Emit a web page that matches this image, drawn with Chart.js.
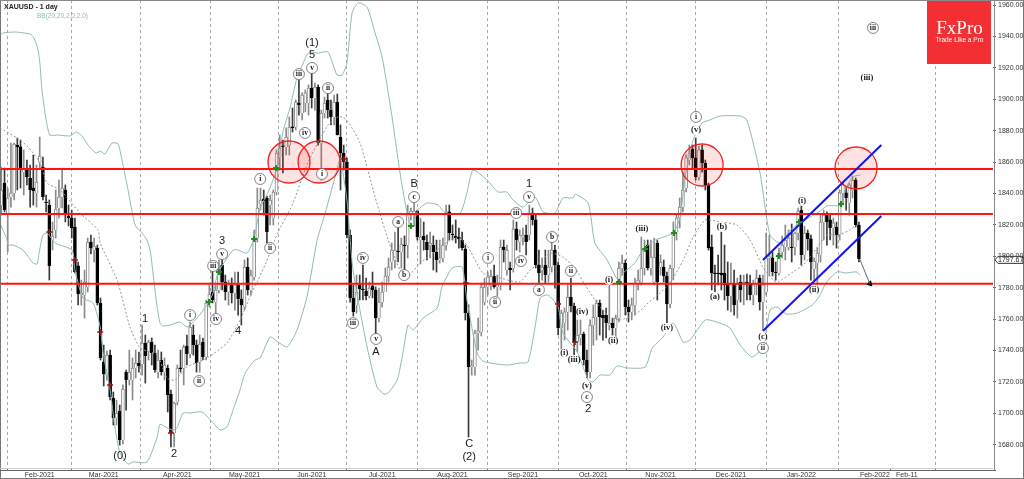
<!DOCTYPE html>
<html><head><meta charset="utf-8">
<style>html,body{margin:0;padding:0;background:#fff}canvas{display:block}</style>
<script src="https://cdn.jsdelivr.net/npm/chart.js@4/dist/chart.umd.min.js"></script>
</head><body><canvas id="c" width="1024" height="479"></canvas>
<script>
const tickIndex=[12,32,55,76,97,119,141,163,185,206,228,250,273,283,301];
const tickLabels=["Feb-2021","Mar-2021","Apr-2021","May-2021","Jun-2021","Jul-2021","Aug-2021","Sep-2021","Oct-2021","Nov-2021","Dec-2021","Jan-2022","Feb-2022","Feb-11",""];
const open=[1832.6,1846.6,1827.5,1837.7,1840.3,1870.8,1869.6,1853.6,1854.9,1849.8,
1843.4,1840.3,1860.0,1856.8,1834.5,1832.6,1810.3,1816.7,1830.7,1837.7,
1842.2,1825.6,1824.3,1818.6,1793.8,1775.3,1775.3,1780.4,1809.0,1803.9,
1805.2,1770.2,1732.6,1724.3,1737.0,1709.7,1697.0,1701.4,1682.9,1726.2,
1721.1,1721.1,1728.8,1732.0,1731.3,1744.7,1739.0,1745.3,1738.3,1726.2,
1733.9,1726.2,1728.8,1712.2,1687.4,1707.1,1728.8,1728.8,1742.8,1737.7,
1749.8,1743.4,1732.6,1745.3,1735.8,1770.2,1777.2,1770.8,1778.5,1794.4,
1783.6,1777.2,1781.7,1776.6,1781.7,1772.7,1767.6,1793.1,1778.5,1786.8,
1811.6,1833.3,1836.4,1837.1,1832.6,1824.3,1840.9,1863.2,1870.2,1869.6,
1870.8,1882.3,1882.3,1897.6,1891.2,1897.6,1897.6,1907.1,1900.8,1907.8,
1872.1,1891.2,1899.5,1893.1,1888.7,1898.2,1875.9,1865.7,1860.0,1813.5,
1773.4,1769.0,1781.7,1779.1,1777.8,1774.6,1781.0,1778.5,1760.6,1770.8,
1777.2,1787.4,1796.3,1797.6,1803.3,1802.7,1807.1,1807.1,1826.9,1826.9,
1828.8,1810.3,1812.9,1809.0,1807.1,1807.1,1802.7,1797.6,1798.9,1807.1,
1828.2,1814.1,1812.9,1812.2,1810.3,1804.6,1763.8,1729.4,1729.4,1751.1,
1751.7,1770.8,1780.4,1781.7,1787.4,1780.4,1781.7,1805.8,1791.2,1792.5,
1792.5,1817.3,1809.0,1812.2,1813.5,1813.5,1827.5,1823.1,1794.4,1791.2,
1794.4,1788.0,1793.1,1803.9,1794.4,1754.3,1757.4,1764.5,1774.0,1768.3,
1745.3,1747.9,1750.4,1733.9,1726.2,1756.2,1761.3,1770.2,1762.5,1762.5,
1756.2,1757.4,1754.3,1760.6,1792.5,1795.7,1767.6,1764.5,1769.0,1782.9,
1783.6,1792.5,1807.1,1792.5,1783.6,1808.4,1793.1,1793.1,1787.4,1769.6,
1792.5,1815.4,1824.3,1831.3,1843.4,1861.3,1868.3,1862.6,1850.4,1867.7,
1859.4,1845.4,1805.8,1789.3,1789.3,1789.3,1789.3,1782.3,1774.6,1782.3,
1772.1,1783.6,1781.7,1783.6,1782.3,1775.3,1782.3,1786.1,1770.8,1777.2,
1798.9,1798.9,1789.9,1789.3,1802.7,1805.8,1805.8,1805.8,1805.8,1814.8,
1829.4,1800.8,1814.8,1811.0,1791.8,1795.7,1800.8,1821.8,1826.2,1823.1,
1818.0,1818.6,1813.5,1840.3,1840.3,1833.9,1842.2,1848.5,1819.9];
const close=[1842.2,1829.4,1837.1,1840.3,1871.5,1869.6,1856.2,1856.2,1850.4,1842.2,
1841.5,1847.3,1863.8,1837.7,1833.9,1793.8,1812.9,1830.1,1837.7,1843.4,
1827.5,1824.3,1818.0,1789.9,1775.9,1776.6,1783.6,1809.0,1805.2,1806.5,
1770.2,1735.2,1725.0,1737.0,1710.3,1697.0,1700.1,1682.9,1715.4,1721.1,
1726.2,1728.8,1732.0,1730.1,1744.7,1736.4,1745.3,1738.3,1727.5,1733.9,
1726.2,1730.7,1711.6,1687.4,1706.5,1728.8,1728.2,1742.2,1737.7,1754.9,
1743.4,1732.0,1744.1,1735.8,1770.2,1775.9,1772.1,1778.5,1792.5,1783.6,
1777.2,1781.7,1776.6,1781.7,1772.7,1768.9,1793.1,1778.5,1788.0,1811.6,
1830.7,1835.8,1835.2,1815.4,1835.8,1840.9,1865.7,1868.9,1869.6,1875.9,
1882.3,1881.7,1898.2,1896.3,1902.7,1904.0,1907.1,1900.8,1907.8,1872.1,
1891.2,1897.6,1893.1,1888.7,1898.2,1877.2,1865.7,1860.0,1813.5,1773.4,
1764.5,1777.2,1779.1,1778.5,1774.6,1779.7,1778.5,1760.6,1770.8,1777.2,
1787.4,1793.1,1803.9,1803.9,1802.7,1807.8,1806.5,1827.5,1828.8,1828.8,
1812.2,1812.2,1810.3,1803.9,1808.4,1802.7,1797.6,1798.9,1807.1,1828.2,
1814.8,1813.5,1811.6,1811.0,1805.2,1763.8,1729.4,1730.1,1751.1,1752.4,
1780.4,1780.4,1786.8,1787.4,1780.4,1781.7,1805.8,1803.9,1803.9,1791.2,
1817.3,1810.3,1813.5,1813.5,1809.0,1827.5,1823.1,1794.4,1789.3,1793.1,
1788.0,1793.1,1803.9,1794.4,1754.3,1763.8,1764.5,1774.0,1768.3,1745.3,
1749.8,1750.4,1733.9,1726.2,1756.2,1761.3,1770.2,1761.3,1760.6,1757.4,
1757.4,1754.3,1760.6,1792.5,1795.7,1767.6,1764.5,1769.0,1782.9,1784.8,
1792.5,1803.9,1792.5,1799.5,1799.5,1783.6,1796.3,1787.4,1769.6,1792.5,
1815.4,1824.3,1831.3,1842.2,1862.6,1865.7,1862.6,1850.4,1867.7,1859.4,
1845.4,1805.2,1789.3,1788.7,1788.7,1788.0,1781.7,1774.6,1782.3,1768.9,
1782.3,1778.5,1783.6,1782.9,1775.3,1781.7,1786.1,1770.8,1781.7,1798.9,
1799.5,1789.9,1789.3,1802.0,1807.1,1810.3,1811.6,1805.2,1814.8,1828.8,
1800.8,1814.8,1811.0,1796.3,1796.9,1802.0,1821.8,1826.2,1821.8,1818.0,
1821.2,1813.5,1840.3,1845.4,1837.1,1845.4,1848.5,1819.9,1798.2];
const high=[1856.8,1856.2,1843.4,1872.1,1872.1,1875.3,1874.0,1867.7,1861.3,1858.1,
1864.5,1858.1,1875.9,1863.2,1839.0,1835.8,1821.8,1842.2,1848.5,1856.2,
1845.4,1832.6,1829.4,1824.3,1796.3,1784.8,1791.2,1811.6,1813.5,1811.6,
1807.1,1773.4,1743.4,1739.6,1740.2,1713.5,1708.4,1705.2,1718.0,1727.5,
1740.2,1735.2,1740.2,1739.0,1756.2,1749.8,1746.6,1747.9,1743.4,1740.2,
1739.0,1735.2,1730.7,1714.8,1707.1,1730.7,1740.2,1743.4,1749.8,1758.1,
1756.2,1746.6,1749.8,1747.9,1772.1,1781.7,1794.4,1781.7,1797.6,1800.8,
1788.0,1784.8,1786.1,1789.9,1789.9,1778.5,1797.6,1798.9,1791.2,1816.7,
1843.4,1843.4,1842.2,1838.3,1839.0,1842.2,1867.7,1877.2,1874.0,1881.7,
1888.7,1894.4,1899.5,1912.2,1904.0,1905.9,1909.1,1916.7,1910.3,1909.1,
1893.1,1901.4,1905.9,1899.5,1902.7,1903.3,1883.6,1870.8,1862.6,1816.7,
1781.7,1788.0,1788.0,1794.4,1786.1,1783.6,1789.9,1780.4,1779.7,1783.6,
1792.5,1798.9,1808.4,1815.4,1819.9,1811.6,1812.9,1832.6,1830.7,1838.3,
1829.4,1824.3,1821.8,1813.5,1815.4,1812.9,1810.3,1810.3,1811.6,1832.6,
1832.6,1819.9,1823.1,1818.0,1815.4,1807.1,1769.0,1733.9,1753.0,1760.6,
1782.9,1786.1,1789.9,1791.2,1794.4,1788.0,1810.3,1810.3,1807.1,1796.3,
1823.1,1821.8,1816.7,1818.0,1819.9,1832.6,1830.7,1826.2,1803.9,1798.9,
1803.9,1803.9,1810.3,1807.1,1796.3,1765.7,1767.0,1781.7,1786.1,1770.2,
1759.4,1759.4,1751.7,1740.2,1759.4,1769.0,1772.1,1772.1,1765.7,1767.0,
1783.6,1760.6,1762.5,1796.3,1800.8,1797.6,1772.1,1773.4,1786.1,1791.2,
1812.2,1810.3,1810.3,1810.3,1811.6,1810.3,1800.8,1797.6,1789.9,1794.4,
1821.8,1826.2,1837.1,1853.6,1864.5,1870.8,1870.8,1875.3,1870.2,1870.8,
1861.3,1846.6,1813.5,1794.4,1800.8,1816.7,1807.1,1796.3,1795.7,1791.2,
1786.1,1788.0,1788.0,1788.7,1788.0,1784.8,1791.2,1788.0,1788.0,1814.8,
1813.5,1802.7,1796.3,1805.2,1812.9,1819.9,1816.7,1820.5,1815.4,1830.7,
1837.7,1819.2,1816.7,1813.5,1798.9,1805.2,1826.9,1829.4,1828.2,1826.2,
1824.3,1821.8,1842.2,1847.3,1844.1,1846.6,1851.1,1849.8,1821.8];
const low=[1826.2,1828.2,1802.7,1831.3,1835.8,1842.2,1843.4,1839.0,1845.4,1831.3,
1832.6,1831.3,1856.2,1835.8,1828.2,1784.8,1803.9,1811.6,1824.3,1830.7,
1821.8,1819.2,1811.6,1789.3,1768.9,1768.9,1760.6,1777.2,1801.4,1796.3,
1768.9,1733.9,1717.3,1721.1,1708.4,1692.5,1692.5,1679.7,1680.4,1702.0,
1718.0,1708.4,1722.4,1726.2,1724.3,1719.2,1733.9,1730.7,1726.2,1722.4,
1724.3,1721.1,1700.8,1678.5,1678.5,1705.2,1726.2,1718.0,1730.7,1735.2,
1737.0,1726.2,1726.2,1733.9,1733.9,1767.6,1770.2,1759.4,1776.6,1778.5,
1772.1,1768.9,1770.2,1765.7,1762.5,1756.2,1765.7,1775.3,1775.3,1784.8,
1809.0,1829.4,1826.2,1808.4,1819.9,1819.9,1839.0,1854.9,1853.0,1864.5,
1864.5,1879.1,1880.4,1889.9,1886.8,1891.9,1889.9,1894.4,1893.1,1870.8,
1848.5,1888.0,1888.0,1883.6,1883.6,1877.2,1842.2,1854.9,1811.6,1770.8,
1761.9,1763.8,1772.1,1772.1,1772.1,1773.4,1773.4,1749.2,1758.1,1767.6,
1778.5,1783.6,1791.2,1792.5,1796.3,1792.5,1789.3,1798.9,1823.1,1819.2,
1810.3,1795.0,1803.9,1797.6,1798.9,1791.2,1789.9,1795.7,1796.3,1803.9,
1810.3,1810.3,1808.4,1805.2,1803.9,1759.4,1684.8,1724.3,1724.3,1740.2,
1749.2,1768.9,1775.3,1778.5,1779.7,1774.6,1778.5,1796.3,1788.0,1778.5,
1789.9,1803.9,1802.7,1807.1,1800.8,1810.3,1819.9,1792.5,1782.9,1784.8,
1782.9,1783.6,1789.9,1779.7,1749.8,1740.2,1746.6,1753.0,1764.5,1737.0,
1739.0,1743.4,1730.7,1722.4,1722.4,1743.4,1746.6,1749.8,1746.6,1747.9,
1753.0,1749.8,1746.6,1758.1,1788.0,1762.5,1758.1,1759.4,1762.5,1778.5,
1781.7,1788.0,1791.2,1788.0,1781.7,1772.1,1788.0,1783.6,1756.2,1767.0,
1784.8,1810.3,1818.0,1828.2,1840.9,1858.1,1856.2,1848.5,1848.5,1853.6,
1842.2,1803.9,1778.5,1775.3,1781.7,1778.5,1772.1,1765.7,1764.5,1762.5,
1760.6,1770.8,1769.0,1772.1,1772.1,1769.0,1775.3,1765.7,1753.0,1775.3,
1787.4,1787.4,1784.8,1788.0,1798.9,1797.6,1803.9,1796.3,1800.8,1810.3,
1794.4,1797.6,1803.9,1784.8,1784.8,1781.7,1796.3,1810.3,1807.1,1810.3,
1807.1,1805.2,1810.3,1832.6,1829.4,1826.2,1837.1,1818.6,1796.3];
const bbUpperIdx=[-0.4,0.5,4.3,9,10.2,11.5,12.1,12.7,14,15.2,17.7,21.5,23.4,25.2,27.1,29.6,30.9,32.4,34.6,36.5,37.7,39.6,41.8,44,45.5,46.5,47.4,48.7,49.6,50.5,52.7,55.9,58,61.2,64.6,66.2,67.7,72.4,74,76.8,79,80.9,83.4,86.2,88,90.2,92.4,95.5,96.5,99,102.1,104.9,106.5,108,109.6,111.5,114.3,116.8,119,122.1,124.6,126.8,128.4,130.2,133,136.5,138.7,143.4,145.5,147.4,151.8,155.2,158,159.9,163,166.8,169.3,173,175.5,178.7,179.3,183.4,185.5,189.3,192.7,194.3,198,200.5,204.3,210,212.1,213.7,216.2,219,221.5,224.6,230.9,233,237.1,240.2,243.4,246.5,250.2,255.9,258,262.4,263.4,265.9,268.4];
const bbUpper=[1940.9,1942.2,1942.8,1941.5,1939,1931.3,1921.8,1905.9,1886.8,1877.2,1877.2,1876.6,1879.1,1876.6,1870.8,1865.7,1867,1865.1,1872.1,1871.5,1861.3,1842.2,1819.9,1814.8,1810.3,1803.9,1789.3,1767.6,1757.4,1755.5,1756.2,1758.1,1754.9,1760.6,1770.2,1776.6,1789.3,1803.9,1803.9,1802,1811.6,1830.7,1840.9,1856.2,1879.1,1894.4,1913.5,1928.2,1930.1,1929.4,1930.1,1915.4,1915.4,1923.1,1954.9,1961.3,1958.7,1942.2,1926.9,1888.7,1853,1827.5,1818.6,1829.4,1833.9,1832.6,1827.5,1827.5,1840.3,1854.9,1848.5,1840.9,1840.9,1835.8,1831.3,1837.7,1828.2,1827.5,1837.1,1837.1,1839.6,1833.9,1808.4,1797.6,1784.8,1789.3,1795.7,1803.9,1810.3,1814.8,1825,1850.4,1874,1884.9,1886.8,1889.3,1889.3,1886.8,1853,1813.5,1808.4,1816.7,1821.8,1828.8,1832,1832.6,1840.9,1850.4,1851.7];
const bbMidIdx=[-0.4,4.9,8.4,12.1,14.3,18.4,24.6,30.2,30.9,36.2,40.2,43.4,48.7,51.8,54.3,58,64.3,70.5,74.6,78.4,82.4,86.5,90.9,95.9,102.1,105.2,106.5,108.4,112.1,116.8,120.9,124.6,126.8,130.9,136.2,138,142.4,145.5,150.5,155.9,162.1,165.2,167.4,171.5,175.5,179.3,182.4,187.1,190.2,193.4,198.7,202.1,205.9,209,213.1,216.2,220,224.6,229.9,234,238,241.2,242.7,247.4,250.6,253.7,258,261.5,265.2,267.1];
const bbMid=[1881.7,1875.3,1869.6,1859.4,1846.6,1842.2,1827.5,1816.7,1808.4,1784.8,1754.9,1741.5,1737,1722.4,1721.1,1729.4,1735.2,1744.7,1759.4,1777.2,1794.4,1815.4,1832.6,1860,1883.6,1888.7,1888.7,1885.5,1872.1,1837.7,1810.3,1791.2,1786.8,1795.7,1803.9,1807.1,1812.2,1807.1,1789.3,1786.1,1783.6,1791.2,1794.4,1802,1799.5,1792.5,1781.7,1767.6,1761.3,1759.4,1763.8,1770.2,1776.6,1783,1797.6,1812.2,1823.1,1821.8,1819.9,1810.3,1793.1,1784.8,1783.6,1790,1794.4,1802,1813.5,1813.5,1816.7,1819.9];
const bbLowerIdx=[-0.4,1.8,2.1,3.7,6.8,9.9,11.2,11.8,13,14.3,16.8,22.1,23,25.5,28.7,30.9,31.8,34,35.5,37.1,39.6,41.2,45.5,48.7,49.6,51.8,53.7,54.9,56.8,59,62.7,66.2,68.4,70.5,72.4,74.6,76.2,79.3,80.9,84,86.5,89.3,92.4,95.5,98.7,101.2,104.9,105.9,108,109.9,114.3,117.4,119.6,120.9,123.7,125.5,127.1,128.7,131.8,136.2,137.7,140.9,144,145.5,148.7,150.5,154.9,158.4,162.1,164.6,166.8,168.4,170.9,174,175.5,180,183.4,184.9,187.1,190.2,192.4,195.5,201.2,203.4,206.8,210,213.1,215.2,220,224.6,227.7,230.9,234.6,238,240.2,242.4,245.2,248.7,253.4,255.5,257.7,261.2,264,267.1,268.4];
const bbLower=[1821.1,1810.3,1807.1,1807.1,1803.9,1795.7,1795,1802,1813.5,1814.8,1808.4,1803.9,1791.2,1773.4,1770.2,1754.9,1738.3,1714.8,1691.2,1674.6,1667.6,1668.9,1668.9,1684.8,1693,1690.6,1689.3,1690.6,1700.1,1700.1,1700.8,1693.8,1689.3,1691.2,1702,1714.8,1725.6,1733.9,1735.2,1748.5,1745.3,1742.2,1753,1774,1810.3,1827.5,1854.9,1862.6,1835.8,1791.2,1742.2,1716.7,1712.2,1712.9,1721.1,1738.3,1756.2,1753,1760.6,1767,1780.4,1792.5,1793.1,1772.1,1738.3,1733.2,1731.3,1730.7,1732,1732.6,1754.9,1773.4,1775.3,1767.6,1751.1,1739,1721.1,1719.9,1724.3,1724.3,1730.1,1728.8,1729.4,1741.5,1748.5,1757.4,1745.3,1746.6,1759.4,1757.4,1754.3,1743.4,1735.8,1742.2,1765.7,1767.6,1763.2,1763.8,1768.9,1774,1782.9,1790,1789.3,1790,1788];
const levels=[1855.6,1826.9,1782.5];
const circleIdx=[89.9,99.3,219,267.1];
const circlePrice=[1860,1860,1858.1,1856.2];
const channelIdx=[238,275];
const channelUpper=[1797.6,1870.8];
const channelLower=[1752.4,1825.6];
const arrowIdx=[268.3,271.4];
const arrowPrice=[1798,1782.5];
const buyIdx=[79,85.9,64.9,68,128,193,201.2,210.2,243,249.3,262.4];
const buyPrice=[1811,1856.2,1770.8,1790,1819.2,1783.6,1804.6,1814.8,1800.1,1821.8,1833.3];
const sellIdx=[15,23,30.9,34,53,107.1,145.2,174,179.3];
const sellPrice=[1815.4,1797.6,1751.7,1718,1687.4,1861.9,1782.9,1769.6,1745.3];
const bigText=["(0)","1","2","3","4","(1)","5","A","B","C","(2)","1","2"];
const bigIdx=[37.1,44.9,54,69,74,97.1,97.1,117.1,129,146.2,146.2,164.9,183.4];
const bigPrice=[1672.7,1760,1674,1809.7,1752.4,1935.8,1928.2,1739,1846,1680.4,1672.1,1846,1702.7];
const ringText=["i","ii","iii","v","iv","i","ii","iii","v","iv","ii","i","iv","iii","v","a","b","c","iii","i","ii","iv","v","a","b","ii","c","i","ii","iii"];
const ringIdx=[59,61.8,66.2,69,67.1,80.9,84,93,97.1,94.9,102.1,100.2,113,109.9,117.1,124,125.9,129,160.9,152.1,154.3,162.4,164.9,168,172.1,178,183,217.1,238,272.4];
const ringPrice=[1762.5,1720.5,1793.8,1801.4,1760,1849.2,1805.2,1916,1919.9,1878.5,1907.1,1852.4,1798.9,1757.4,1747.3,1821.8,1788,1837.7,1827.5,1798.9,1770.8,1796.9,1837.7,1778.5,1812.2,1790.6,1710.3,1888.7,1741.5,1945.4];
const parenText=["(iv)","(i)","(iii)","(v)","(i)","(ii)","(iii)","(iv)","(v)","(b)","(a)","(c)","(i)","(ii)","(iii)"];
const parenIdx=[181.5,175.9,179,183,189.9,191.2,200.2,208,217.1,225.2,223,238,250.2,254,270.5];
const parenPrice=[1764.5,1738.3,1733.9,1717.3,1784.8,1746,1817.3,1754.3,1880.4,1818.6,1774,1748.5,1835.2,1778.5,1913.5];
const lastPrice=1797.67;
const yTicks=[1680,1700,1720,1740,1760,1780,1800,1820,1840,1860,1880,1900,1920,1940,1960];

const pairs=(xs,ys)=>xs.map((x,i)=>({x,y:ys[i]}));
const isUp=open.map((o,i)=>close[i]>=o);
const wicks=open.map((o,i)=>({x:i,y:[low[i],high[i]]}));
const bodies=open.map((o,i)=>({x:i,y:[Math.min(o,close[i]),Math.max(o,close[i])]}));
const X_MIN=-0.1,X_MAX=309.9;
const levelSets=levels.map(v=>({type:'line',data:[{x:X_MIN,y:v},{x:X_MAX,y:v}],borderColor:'#ff1414',borderWidth:2,pointRadius:0,order:5}));

const overlay={id:'overlay',
 afterDatasetsDraw(ch){
  const c=ch.ctx,sx=ch.scales.x,sy=ch.scales.y;
  c.save();c.textAlign='center';c.textBaseline='middle';
  c.fillStyle='#1a1a1a';c.font='11px "Liberation Sans"';
  bigText.forEach((t,i)=>c.fillText(t,sx.getPixelForValue(bigIdx[i]),sy.getPixelForValue(bigPrice[i])));
  c.font='bold 7.5px "Liberation Serif"';
  ringText.forEach((t,i)=>c.fillText(t,sx.getPixelForValue(ringIdx[i]),sy.getPixelForValue(ringPrice[i])));
  c.font='bold 8.5px "Liberation Serif"';
  parenText.forEach((t,i)=>c.fillText(t,sx.getPixelForValue(parenIdx[i]),sy.getPixelForValue(parenPrice[i])));
  c.restore();
 },
 afterDraw(ch){
  const c=ch.ctx,sy=ch.scales.y;
  c.save();
  // logo
  c.fillStyle='rgba(244,40,44,0.97)';c.fillRect(927,0,64,64);
  c.fillStyle='#fff';c.textAlign='center';c.textBaseline='middle';
  c.font='19px "Liberation Serif"';c.fillText('FxPro',959.5,29);
  c.font='6.5px "Liberation Sans"';c.fillText('Trade Like a Pro',959.5,40.5);
  // title
  c.textAlign='left';c.fillStyle='#222';c.font='bold 7px "Liberation Sans"';c.fillText('XAUUSD - 1 day',4,7);
  c.fillStyle='#8fb8b8';c.font='6.5px "Liberation Sans"';c.fillText('BB(20,20,2.0,2.0)',37,16);
  // frame
  c.lineWidth=1;c.strokeStyle='#777';
  const L=(a,b,d,e,col)=>{c.strokeStyle=col;c.beginPath();c.moveTo(a,b);c.lineTo(d,e);c.stroke();};
  L(0.5,0,0.5,479,'#777');L(0,0.5,1024,0.5,'#888');L(1023.5,0,1023.5,479,'#777');L(0,478.5,1024,478.5,'#777');
  L(0,468.5,993,468.5,'#ccc');L(0,470.5,996,470.5,'#666');L(994.5,0,994.5,470,'#888');
  // last price tag
  const y=sy.getPixelForValue(lastPrice);
  c.fillStyle='#fff';c.strokeStyle='#333';c.beginPath();
  c.moveTo(995,y);c.lineTo(998,y-3.5);c.lineTo(1023,y-3.5);c.lineTo(1023,y+3.5);c.lineTo(998,y+3.5);c.closePath();c.fill();c.stroke();
  c.fillStyle='#222';c.font='7px "Liberation Sans"';c.textBaseline='middle';c.fillText(lastPrice.toFixed(2),998,y+0.5);
  c.restore();
 }};

new Chart(document.getElementById('c'),{
 data:{datasets:[
  {type:'bar',data:wicks,grouped:false,barThickness:1,backgroundColor:ctx=>isUp[ctx.dataIndex]?'#8a8a8a':'#3a3a3a',borderWidth:0,order:10},
  {type:'bar',data:bodies,grouped:false,barThickness:3,minBarLength:1,
   backgroundColor:ctx=>isUp[ctx.dataIndex]?'#ffffff':'#000000',
   borderColor:ctx=>isUp[ctx.dataIndex]?'#8a8a8a':'#000000',borderWidth:1,order:9},
  {type:'line',data:pairs(bbUpperIdx,bbUpper),borderColor:'#8fb8b8',borderWidth:1,pointRadius:0,tension:0.2,order:8},
  {type:'line',data:pairs(bbLowerIdx,bbLower),borderColor:'#8fb8b8',borderWidth:1,pointRadius:0,tension:0.2,order:8},
  {type:'line',data:pairs(bbMidIdx,bbMid),borderColor:'#8a9a9a',borderWidth:1,borderDash:[2,2],pointRadius:0,tension:0.2,order:8},
  ...levelSets,
  {type:'scatter',data:pairs(circleIdx,circlePrice),pointRadius:21,pointBackgroundColor:'rgba(255,30,30,0.13)',pointBorderColor:'#f02020',pointBorderWidth:1.3,order:4},
  {type:'line',data:pairs(channelIdx,channelUpper),borderColor:'#1414f0',borderWidth:2,pointRadius:0,order:3},
  {type:'line',data:pairs(channelIdx,channelLower),borderColor:'#1414f0',borderWidth:2,pointRadius:0,order:3},
  {type:'line',data:pairs(arrowIdx,arrowPrice),borderColor:'#666',borderWidth:1,pointRadius:0,order:3},
  {type:'scatter',data:[{x:arrowIdx[1],y:arrowPrice[1]}],pointStyle:'triangle',pointRadius:3,rotation:135,pointRotation:135,backgroundColor:'#000',borderColor:'#000',pointBackgroundColor:'#000',pointBorderColor:'#000',order:3},
  {type:'scatter',data:pairs(buyIdx,buyPrice),pointStyle:'cross',pointRadius:3,pointBorderColor:'#1f8a1f',pointBorderWidth:2,order:2},
  {type:'scatter',data:pairs(sellIdx,sellPrice),pointStyle:'cross',pointRadius:3,pointBorderColor:'#8b1a1a',pointBorderWidth:1.5,order:2},
  {type:'scatter',data:pairs(ringIdx,ringPrice),pointRadius:5.5,pointBackgroundColor:'#fff',pointBorderColor:'#666',pointBorderWidth:0.8,order:1},
  {type:'scatter',data:pairs(parenIdx,parenPrice),pointRadius:5,pointBackgroundColor:'#fff',pointBorderWidth:0,order:1}
 ]},
 options:{responsive:false,animation:false,events:[],
  layout:{autoPadding:false,padding:{left:1,right:0,top:0,bottom:0}},
  plugins:{legend:{display:false},tooltip:{enabled:false},title:{display:false}},
  scales:{
   x:{type:'linear',min:X_MIN,max:X_MAX,offset:false,
    afterBuildTicks:s=>{s.ticks=tickIndex.map(v=>({value:v}));},
    afterFit:s=>{s.height=11;s.paddingLeft=0;s.paddingRight=0;},
    border:{display:false,dash:[3,3]},
    grid:{color:c=>(c.tick&&c.tick.value===283)?'rgba(0,0,0,0)':'#a8a8a8',lineWidth:1,drawTicks:true,tickLength:2,tickColor:'#666'},
    ticks:{autoSkip:false,maxRotation:0,minRotation:0,padding:1,color:'#333',font:{family:'"Liberation Sans"',size:7},
     callback:v=>{const k=tickIndex.indexOf(v);return k>=0?tickLabels[k]:'';}}
   },
   y:{type:'linear',position:'right',min:1665.1,max:1963.2,
    afterBuildTicks:s=>{s.ticks=yTicks.map(v=>({value:v}));},
    afterFit:s=>{s.width=31;s.paddingTop=0;s.paddingBottom=0;},
    border:{display:false},
    grid:{drawOnChartArea:false,drawTicks:true,tickLength:3,color:'#666'},
    ticks:{padding:2,color:'#333',font:{family:'"Liberation Sans"',size:7},callback:v=>Number(v).toFixed(2)}
   }
  }
 },
 plugins:[overlay]
});
</script></body></html>
